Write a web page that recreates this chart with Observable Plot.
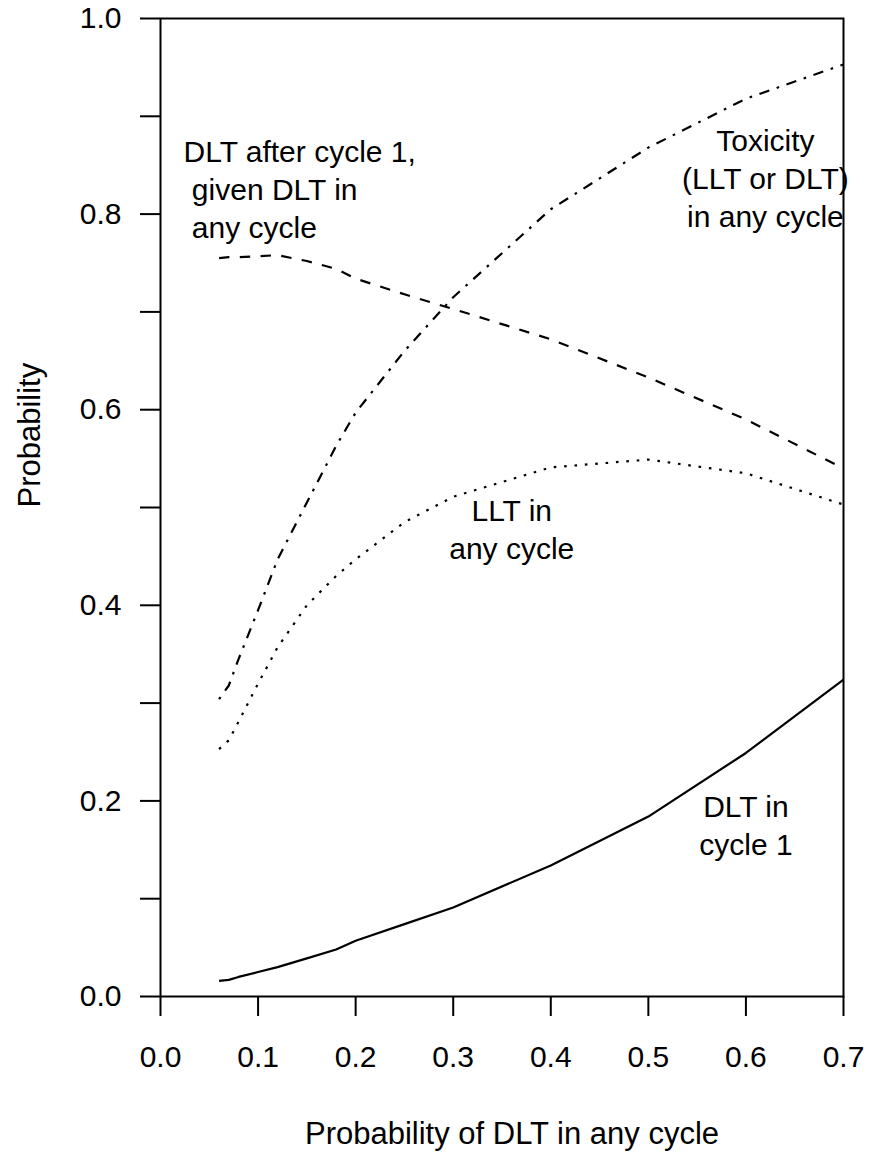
<!DOCTYPE html>
<html>
<head>
<meta charset="utf-8">
<script src="https://cdn.jsdelivr.net/npm/d3@7"></script>
<script src="https://cdn.jsdelivr.net/npm/@observablehq/plot@0.6"></script>
<style>
  html, body { margin: 0; padding: 0; background: #fff; }
  #chart svg { display: block; }
</style>
</head>
<body>
<div id="chart"></div>
<script>
// Probability of DLT in any cycle (x values)
const xValues = [0.06, 0.07, 0.08, 0.10, 0.12, 0.15, 0.18, 0.20, 0.25, 0.30, 0.40, 0.50, 0.60, 0.70];
// DLT in cycle 1 (solid)
const dltCycle1 = [0.016, 0.017, 0.020, 0.025, 0.030, 0.039, 0.048, 0.057, 0.074, 0.091, 0.134, 0.184, 0.249, 0.324];
// DLT after cycle 1, given DLT in any cycle (dashed)
const dltAfter = [0.755, 0.756, 0.756, 0.757, 0.758, 0.752, 0.744, 0.734, 0.718, 0.703, 0.672, 0.633, 0.590, 0.540];
// LLT in any cycle (dotted)
const lltAny = [0.253, 0.262, 0.281, 0.320, 0.357, 0.400, 0.430, 0.447, 0.485, 0.511, 0.541, 0.549, 0.535, 0.503];
// Toxicity (LLT or DLT) in any cycle (dot-dash)
const toxAny = [0.304, 0.318, 0.345, 0.395, 0.447, 0.505, 0.563, 0.597, 0.660, 0.715, 0.805, 0.868, 0.918, 0.953];

const xTicks = [0, 0.1, 0.2, 0.3, 0.4, 0.5, 0.6, 0.7];
const yTicks = [0, 0.1, 0.2, 0.3, 0.4, 0.5, 0.6, 0.7, 0.8, 0.9, 1.0];
const yLabelled = [0, 0.2, 0.4, 0.6, 0.8, 1.0];

const xTitle = "Probability of DLT in any cycle";
const yTitle = "Probability";

// curve annotations (text, anchor point in data units)
const annoLeftText = ["DLT after cycle 1,\n\u00A0given DLT in\n\u00A0any cycle"];
const annoLeftX = [0.0236];
const annoLeftY = [0.827];
const annoText = ["Toxicity\n(LLT or DLT)\nin any cycle", "LLT in\nany cycle", "DLT in\ncycle 1"];
const annoX = [0.620, 0.360, 0.600];
const annoY = [0.838, 0.479, 0.177];

const series = [
  {name: "DLT in cycle 1", values: dltCycle1, dash: null},
  {name: "DLT after cycle 1", values: dltAfter, dash: "10.4,10.4"},
  {name: "LLT in any cycle", values: lltAny, dash: "2.6,7.8"},
  {name: "Toxicity in any cycle", values: toxAny, dash: "2.6,7.8,10.4,7.8"}
];

const lineMarks = series.map(s =>
  Plot.line(xValues.map((x, i) => ({x, y: s.values[i]})), {
    x: "x", y: "y", stroke: "black", strokeWidth: 2.2,
    strokeDasharray: s.dash ?? undefined, strokeLinecap: "butt", strokeLinejoin: "round"
  })
);

const leftAnno = annoLeftText.map((t, i) => ({t, x: annoLeftX[i], y: annoLeftY[i]}));
const midAnno = annoText.map((t, i) => ({t, x: annoX[i], y: annoY[i]}));

const chart = Plot.plot({
  width: 869,
  height: 1152,
  marginTop: 18,
  marginRight: 26,
  marginBottom: 156,
  marginLeft: 160,
  style: {fontFamily: "'Liberation Sans', Arial, Helvetica, sans-serif", fontSize: "30px", background: "white", color: "black"},
  x: {domain: [0, 0.7], label: null},
  y: {domain: [0, 1], label: null},
  marks: [
    Plot.frame({stroke: "black", strokeWidth: 2}),
    Plot.axisX({ticks: xTicks, tickSize: 20, tickPadding: 29, strokeWidth: 2, tickFormat: d3.format(".1f"), label: null, fontSize: 30}),
    Plot.axisY({ticks: yTicks, tickSize: 20, tickPadding: 19, strokeWidth: 2,
      tickFormat: d => yLabelled.some(v => Math.abs(v - d) < 1e-9) ? d3.format(".1f")(d) : "", label: null, fontSize: 30}),
    ...lineMarks,
    Plot.text(leftAnno, {x: "x", y: "y", text: "t", textAnchor: "start", lineAnchor: "middle", lineHeight: 1.27, fontSize: 30, fill: "black"}),
    Plot.text(midAnno, {x: "x", y: "y", text: "t", textAnchor: "middle", lineAnchor: "middle", lineHeight: 1.27, fontSize: 30, fill: "black"}),
    Plot.text([xTitle], {frameAnchor: "bottom", dx: 10, dy: 138, lineAnchor: "middle", fontSize: 31, fill: "black"}),
    Plot.text([yTitle], {frameAnchor: "left", dx: -130, rotate: -90, lineAnchor: "middle", fontSize: 31, fill: "black"})
  ]
});

document.getElementById("chart").appendChild(chart);
</script>
</body>
</html>
